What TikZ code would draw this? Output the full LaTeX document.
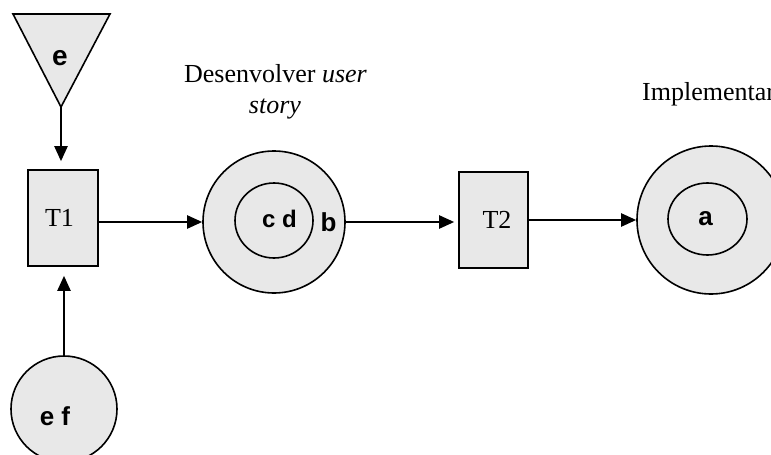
\documentclass[tikz,border=0pt]{standalone}
\usepackage{fontspec}
\setmainfont{Liberation Serif}
\newfontfamily\arialfont{Liberation Sans}
\usetikzlibrary{arrows.meta,shapes.geometric}
\definecolor{shapegray}{HTML}{E8E8E8}
\tikzset{
  shp/.style={draw=black, line width=1.6pt, fill=shapegray},
  boxshape/.style={shp, rectangle, minimum width=70pt, minimum height=96pt, inner sep=0pt},
  placeshape/.style={shp, circle, inner sep=0pt},
  innershape/.style={draw=black, line width=1.6pt, ellipse, inner sep=0pt},
  arr/.style={line width=2.2pt, -{Triangle[length=15pt,width=13pt]}},
  lbl/.style={inner sep=0pt, anchor=base, font=\fontsize{26}{31}\selectfont},
  tok/.style={inner sep=0pt, anchor=base, font=\arialfont\bfseries\fontsize{26}{30}\selectfont},
}
\begin{document}
\begin{tikzpicture}[x=1pt,y=-1pt]
\useasboundingbox (0,0) rectangle (771,455);
% triangle source
\draw[shp] (13,14) -- (110,14) -- (61,107) -- cycle;
\coordinate (triapex) at (61,107);
\node[tok, font=\arialfont\bfseries\fontsize{28}{32}\selectfont] (te) at (60,65) {e};
% T1
\node[boxshape] (T1) at (63,218) {};
\node[lbl] (T1t) at (59.5,226) {T1};
% bottom place
\node[placeshape, minimum size=106pt] (C3) at (64,409) {};
\node[tok] (C3t) at (55,425) {e f};
% place 1
\node[placeshape, minimum size=142pt] (C1) at (274,222) {};
\node[innershape, minimum width=78pt, minimum height=75pt] (C1i) at (274,220.5) {};
\node[tok, font=\arialfont\bfseries\fontsize{24}{28}\selectfont] (C1t) at (279.5,227) {c d};
\node[tok] (C1b) at (328.5,231) {b};
\node[lbl] (L1a) at (275.5,82) {Desenvolver \textit{user}};
\node[lbl] (L1b) at (275,113) {\textit{story}};
% T2
\node[boxshape, minimum width=69pt] (T2) at (493.5,220) {};
\node[lbl] (T2t) at (497,228) {T2};
% place 2
\node[placeshape, minimum size=148pt] (C2) at (711,220) {};
\node[innershape, minimum width=79pt, minimum height=72pt] (C2i) at (707.5,219) {};
\node[tok] (C2t) at (705.5,225) {a};
\node[lbl, anchor=base west] (L2) at (642,100) {Implementar};
% connectors
\draw[arr, shorten >=8pt] (triapex) -- (triapex |- T1.north);
\draw[arr, shorten >=9pt] (C3.north) -- (C3.north |- T1.south);
\draw[arr] (T1.east |- C1.west) -- (C1.west);
\draw[arr, shorten >=4pt] (C1.east) -- (T2.west |- C1.east);
\draw[arr] (T2.east |- C2.west) -- (C2.west);
\end{tikzpicture}
\end{document}
